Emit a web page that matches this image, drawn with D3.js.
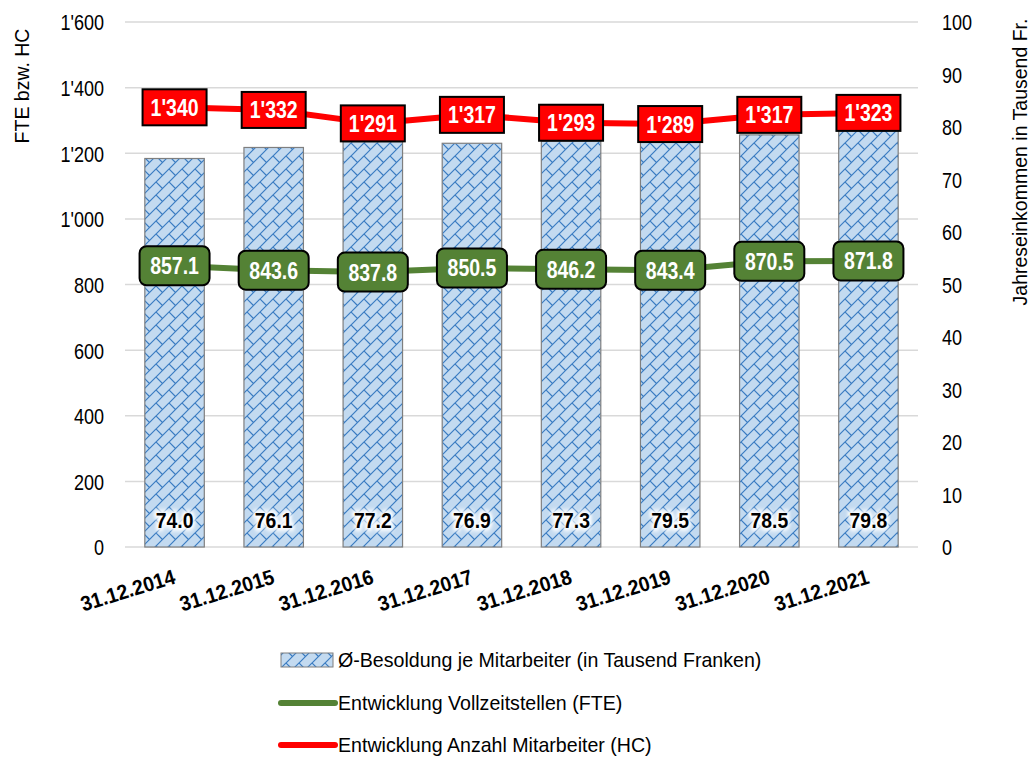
<!DOCTYPE html>
<html>
<head>
<meta charset="utf-8">
<script src="https://cdn.jsdelivr.net/npm/d3@7"></script>
<style>
  body { margin: 0; background: #fff; }
  svg text { font-family: "Liberation Sans", Arial, sans-serif; }
</style>
</head>
<body>
<svg id="chart" width="1036" height="758"></svg>
<script>
// Stichtage
const dates = ["31.12.2014", "31.12.2015", "31.12.2016", "31.12.2017", "31.12.2018", "31.12.2019", "31.12.2020", "31.12.2021"];
// Ø-Besoldung je Mitarbeiter (in Tausend Franken)
const salary = [74.0, 76.1, 77.2, 76.9, 77.3, 79.5, 78.5, 79.8];
// Vollzeitstellen (FTE)
const fte = [857.1, 843.6, 837.8, 850.5, 846.2, 843.4, 870.5, 871.8];
// Anzahl Mitarbeiter (HC)
const hc = [1340, 1332, 1291, 1317, 1293, 1289, 1317, 1323];
// Achsenbeschriftungen
const leftTicks = [0, 200, 400, 600, 800, 1000, 1200, 1400, 1600];
const rightTicks = [0, 10, 20, 30, 40, 50, 60, 70, 80, 90, 100];
const legendLabels = [
  "Ø-Besoldung je Mitarbeiter (in Tausend Franken)",
  "Entwicklung Vollzeitstellen (FTE)",
  "Entwicklung Anzahl Mitarbeiter (HC)"
];

const svg = d3.select("#chart");
const plot = { left: 125, right: 918, top: 22, bottom: 547 };

const x = d3.scaleBand().domain(dates).range([plot.left, plot.right]).paddingInner(0.4).paddingOuter(0.2);
const yL = d3.scaleLinear().domain([0, 1600]).range([plot.bottom, plot.top]);
const yR = d3.scaleLinear().domain([0, 100]).range([plot.bottom, plot.top]);
const cx = d => x(d) + x.bandwidth() / 2;

const fmtApos = v => d3.format(",")(v).replace(/,/g, "'");

// Narrow the glyphs horizontally, keeping the anchor point in place
function condense(sel, sx) {
  sel.each(function () {
    const t = d3.select(this);
    const px = +t.attr("x") || 0, py = +t.attr("y") || 0;
    const prev = t.attr("transform") || "";
    t.attr("x", 0).attr("y", 0)
      .attr("transform", `${prev} translate(${px},${py}) scale(${sx},1)`);
  });
}

const defs = svg.append("defs");
// Diagonal brick hatch for the salary bars
const T = 13;
const pat = defs.append("pattern")
  .attr("id", "brick")
  .attr("patternUnits", "userSpaceOnUse")
  .attr("width", T).attr("height", T);
pat.append("rect").attr("width", T).attr("height", T).attr("fill", "#c3daf0");
pat.append("path")
  .attr("d", `M-1,${T + 1} L${T + 1},-1 M-1,1 L1,-1 M${T - 1},${T + 1} L${T + 1},${T - 1} M0,0 L${T / 2},${T / 2} M${T},${T} L${T + 1},${T + 1}`)
  .attr("stroke", "#3a7cc2").attr("stroke-width", 1.2).attr("fill", "none");

// white halo behind bar value labels
const glow = defs.append("filter").attr("id", "glow").attr("x", "-30%").attr("y", "-50%").attr("width", "160%").attr("height", "200%");
glow.append("feGaussianBlur").attr("stdDeviation", 2);

// gridlines
svg.append("g")
  .selectAll("line").data(leftTicks).join("line")
  .attr("x1", plot.left).attr("x2", plot.right)
  .attr("y1", d => yL(d)).attr("y2", d => yL(d))
  .attr("stroke", "#d9d9d9").attr("stroke-width", 1.5);

// left axis
const axL = svg.append("g").attr("transform", `translate(${plot.left},0)`)
  .call(d3.axisLeft(yL).tickValues(leftTicks).tickFormat(fmtApos).tickSize(0).tickPadding(21));
axL.select(".domain").remove();
axL.selectAll("text").attr("font-size", 22).attr("fill", "#000").attr("dy", "0.36em")
  .style("font-family", '"Liberation Sans", Arial, sans-serif')
  .call(condense, 0.82);

// right axis
const axR = svg.append("g").attr("transform", `translate(${plot.right},0)`)
  .call(d3.axisRight(yR).tickValues(rightTicks).tickSize(0).tickPadding(24));
axR.select(".domain").remove();
axR.selectAll("text").attr("font-size", 22).attr("fill", "#000").attr("dy", "0.36em")
  .style("font-family", '"Liberation Sans", Arial, sans-serif')
  .call(condense, 0.82);

// axis titles
svg.append("text")
  .attr("transform", `translate(29,86) rotate(-90)`)
  .attr("text-anchor", "middle")
  .attr("font-size", 19.5).text("FTE bzw. HC");
svg.append("text")
  .attr("transform", `translate(1027,162) rotate(-90)`)
  .attr("text-anchor", "middle")
  .attr("font-size", 19.5).text("Jahreseinkommen in Tausend Fr.");

// bars
svg.append("g").selectAll("rect").data(dates).join("rect")
  .attr("x", d => x(d))
  .attr("y", (d, i) => yR(salary[i]))
  .attr("width", x.bandwidth())
  .attr("height", (d, i) => yR(0) - yR(salary[i]))
  .attr("fill", "url(#brick)")
  .attr("stroke", "#7f7f7f").attr("stroke-width", 1.2);

// bar value labels
const barLab = svg.append("g");
dates.forEach((d, i) => {
  const t = d3.format(".1f")(salary[i]);
  barLab.append("text")
    .attr("x", cx(d)).attr("y", 528)
    .attr("text-anchor", "middle").attr("font-size", 22).attr("font-weight", "bold")
    .attr("fill", "#fff").attr("stroke", "#fff").attr("stroke-width", 6)
    .attr("stroke-linejoin", "round").attr("filter", "url(#glow)").text(t)
    .call(condense, 0.88);
  barLab.append("text")
    .attr("x", cx(d)).attr("y", 528)
    .attr("text-anchor", "middle").attr("font-size", 22).attr("font-weight", "bold")
    .attr("fill", "#000").text(t)
    .call(condense, 0.88);
});

// lines
const lineL = d3.line().x((d, i) => cx(dates[i])).y(d => yL(d));
svg.append("path").datum(hc).attr("d", lineL)
  .attr("fill", "none").attr("stroke", "#ff0000").attr("stroke-width", 6).attr("stroke-linejoin", "round");
svg.append("path").datum(fte).attr("d", lineL)
  .attr("fill", "none").attr("stroke", "#548235").attr("stroke-width", 6).attr("stroke-linejoin", "round");

// HC labels
const hcLab = svg.append("g");
hc.forEach((v, i) => {
  const px = cx(dates[i]), py = yL(v);
  hcLab.append("rect").attr("x", px - 32).attr("y", py - 18).attr("width", 64).attr("height", 36)
    .attr("fill", "#ff0000").attr("stroke", "#000").attr("stroke-width", 2);
  hcLab.append("text").attr("x", px).attr("y", py + 8.5)
    .attr("text-anchor", "middle").attr("font-size", 23.5).attr("font-weight", "bold")
    .attr("fill", "#fff").text(fmtApos(v))
    .call(condense, 0.83);
});

// FTE labels
const fteLab = svg.append("g");
fte.forEach((v, i) => {
  const px = cx(dates[i]), py = yL(v);
  fteLab.append("rect").attr("x", px - 35).attr("y", py - 19.5).attr("width", 70).attr("height", 39)
    .attr("rx", 7).attr("ry", 7)
    .attr("fill", "#548235").attr("stroke", "#000").attr("stroke-width", 2);
  fteLab.append("text").attr("x", px).attr("y", py + 8.5)
    .attr("text-anchor", "middle").attr("font-size", 23.5).attr("font-weight", "bold")
    .attr("fill", "#fff").text(d3.format(".1f")(v))
    .call(condense, 0.83);
});

// category labels
svg.append("g").selectAll("text").data(dates).join("text")
  .attr("transform", d => `translate(${cx(d) + 2},${583}) rotate(-17) scale(0.93,1)`)
  .attr("text-anchor", "end").attr("font-size", 21).attr("font-weight", "bold")
  .text(d => d);

// legend
const lg = svg.append("g");
const lx = 281, lrows = [660, 703, 745];
lg.append("rect").attr("x", lx).attr("y", lrows[0] - 7).attr("width", 52).attr("height", 14)
  .attr("fill", "url(#brick)").attr("stroke", "#7f7f7f").attr("stroke-width", 1);
lg.append("line").attr("x1", lx).attr("x2", lx + 54).attr("y1", lrows[1]).attr("y2", lrows[1])
  .attr("stroke", "#548235").attr("stroke-width", 6).attr("stroke-linecap", "round");
lg.append("line").attr("x1", lx).attr("x2", lx + 54).attr("y1", lrows[2]).attr("y2", lrows[2])
  .attr("stroke", "#ff0000").attr("stroke-width", 6).attr("stroke-linecap", "round");
lg.selectAll("text.leg").data(legendLabels).join("text")
  .attr("class", "leg")
  .attr("x", 338).attr("y", (d, i) => lrows[i] + 7)
  .attr("font-size", 20).text(d => d)
  .call(condense, 0.98);
</script>
</body>
</html>
